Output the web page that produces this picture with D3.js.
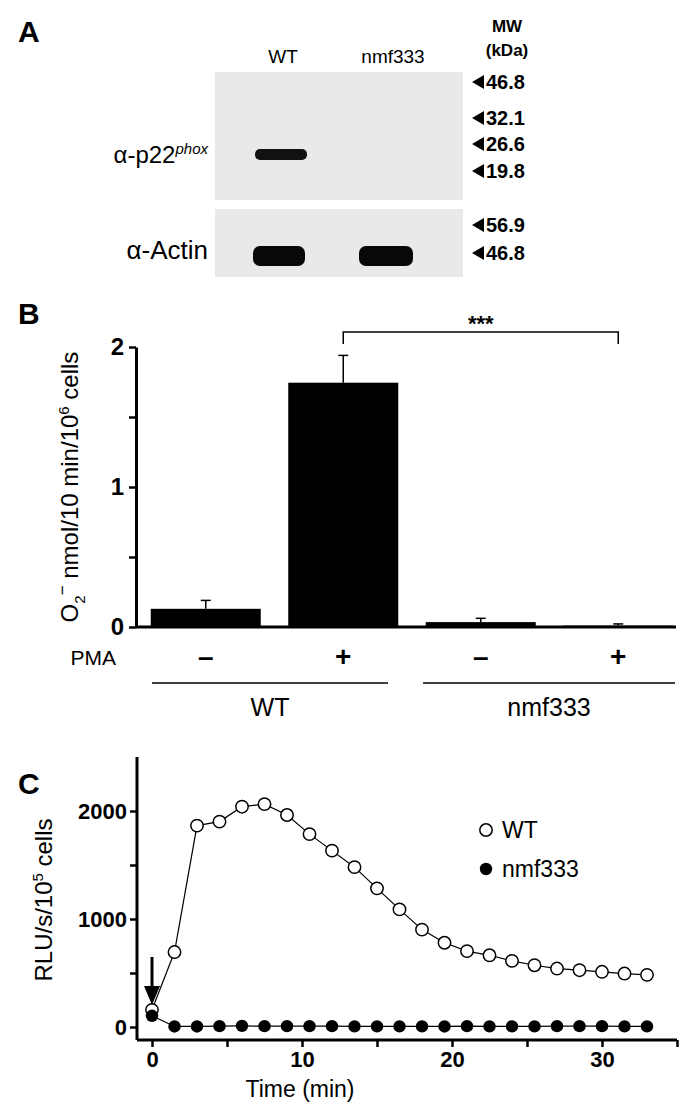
<!DOCTYPE html>
<html><head><meta charset="utf-8">
<script src="https://cdn.jsdelivr.net/npm/d3@7"></script>
<style>body{margin:0;background:#fff}text{font-family:"Liberation Sans",Arial,sans-serif}</style>
</head><body><svg id="c" width="700" height="1116"></svg>
<script>
// ---- Data ----
const laneLabels = ["WT", "nmf333"];
const mwTop = ["46.8", "32.1", "26.6", "19.8"];
const mwBottom = ["56.9", "46.8"];
const barGroups = ["WT", "nmf333"];
const pma = ["–", "+", "–", "+"];
const barValues = [0.13, 1.745, 0.035, 0.01];
const barErrors = [0.19, 1.94, 0.062, 0.022];
const barTicks = [0, 1, 2];
const timeMin = [0,1.5,3,4.5,6,7.5,9,10.5,12,13.5,15,16.5,18,19.5,21,22.5,24,25.5,27,28.5,30,31.5,33];
const wtRLU = [159,694,1865,1902,2040,2064,1963,1786,1633,1480,1284,1089,902,780,703,664,612,572,541,526,511,495,483];
const nmfRLU = [104,5,5,8,10,8,8,8,8,6,6,6,6,5,8,6,6,6,8,8,8,6,6];
const cTicksY = [0, 1000, 2000];
const cTicksX = [0, 10, 20, 30];

const svg = d3.select("#c");
const B = "bold";

// ---- Panel A ----
svg.append("text").attr("x",18).attr("y",42).attr("font-size",30).attr("font-weight",B).text("A");
svg.append("rect").attr("x",215).attr("y",72).attr("width",248).attr("height",128).attr("fill","#e9e9e9");
svg.append("rect").attr("x",215).attr("y",209).attr("width",248).attr("height",68).attr("fill","#e9e9e9");
laneLabels.forEach((l,i)=>{
  svg.append("text").attr("x",[283,393][i]).attr("y",63).attr("text-anchor","middle").attr("font-size",19).text(l);
});
svg.append("rect").attr("x",255).attr("y",149).attr("width",52).attr("height",11).attr("rx",5).attr("fill","#111");
[[253,305],[359,413]].forEach(([a,b])=>svg.append("rect").attr("x",a).attr("y",246).attr("width",b-a).attr("height",20).attr("rx",7).attr("fill","#080808"));
svg.append("text").attr("x",208).attr("y",163).attr("text-anchor","end").attr("font-size",24)
  .html('α-p22<tspan font-size="15" font-style="italic" dy="-9">phox</tspan>');
svg.append("text").attr("x",208).attr("y",259).attr("text-anchor","end").attr("font-size",26).text("α-Actin");
svg.append("text").attr("x",507).attr("y",32).attr("text-anchor","middle").attr("font-size",17).attr("font-weight",B).text("MW");
svg.append("text").attr("x",507).attr("y",56).attr("text-anchor","middle").attr("font-size",17).attr("font-weight",B).text("(kDa)");
const mwY = [82,118,144,171];
const mwY2 = [225,253];
function mw(lbl,y){
  svg.append("path").attr("d",`M472,${y} l12,-7 v14 z`).attr("fill","#000");
  svg.append("text").attr("x",486).attr("y",y+7).attr("font-size",20).attr("font-weight",B).text(lbl);
}
mwTop.forEach((l,i)=>mw(l,mwY[i])); mwBottom.forEach((l,i)=>mw(l,mwY2[i]));

// ---- Panel B ----
svg.append("text").attr("x",18).attr("y",324).attr("font-size",30).attr("font-weight",B).text("B");
const by = d3.scaleLinear().domain([0,2]).range([627,347]);
const bx = d3.scaleBand().domain(d3.range(4)).range([148,676]).paddingInner(0.2).paddingOuter(0.02);
const bAxis = svg.append("g").attr("transform","translate(136,0)")
  .call(d3.axisLeft(by).tickValues([0,0.5,1,1.5,2]).tickFormat(d=>barTicks.includes(d)?d:"").tickSize(7).tickSizeOuter(0));
bAxis.selectAll("text").attr("font-size",24).attr("font-weight",B).attr("dx",-2);
bAxis.select(".domain").attr("stroke-width",3);
bAxis.selectAll(".tick line").attr("stroke-width",2.5);
svg.append("line").attr("x1",136).attr("x2",676).attr("y1",627).attr("y2",627).attr("stroke","#000").attr("stroke-width",3);
barValues.forEach((v,i)=>{
  const x = bx(i), w = bx.bandwidth(), cx = x+w/2;
  svg.append("line").attr("x1",cx).attr("x2",cx).attr("y1",by(v)).attr("y2",by(barErrors[i])).attr("stroke","#000").attr("stroke-width",1.5);
  svg.append("line").attr("x1",cx-5).attr("x2",cx+5).attr("y1",by(barErrors[i])).attr("y2",by(barErrors[i])).attr("stroke","#000").attr("stroke-width",1.5);
  svg.append("rect").attr("x",x).attr("y",by(v)).attr("width",w).attr("height",Math.max(627-by(v),1.5)).attr("fill","#000");
  svg.append("text").attr("x",cx).attr("y",666).attr("text-anchor","middle").attr("font-size",28).attr("font-weight",B).text(pma[i]);
});
svg.append("text").attr("x",116).attr("y",665).attr("text-anchor","end").attr("font-size",21).text("PMA");
const c1 = bx(1)+bx.bandwidth()/2, c3 = bx(3)+bx.bandwidth()/2;
svg.append("path").attr("d",`M${c1},344 V332 H${c3} V344`).attr("fill","none").attr("stroke","#000").attr("stroke-width",1.5);
svg.append("text").attr("x",(c1+c3)/2).attr("y",331).attr("text-anchor","middle").attr("font-size",22).attr("font-weight",B).text("***");
[[152,388],[423,675]].forEach(([a,b],i)=>{
  svg.append("line").attr("x1",a).attr("x2",b).attr("y1",683).attr("y2",683).attr("stroke","#000").attr("stroke-width",1.5);
  svg.append("text").attr("x",(a+b)/2).attr("y",716).attr("text-anchor","middle").attr("font-size",25).text(barGroups[i]);
});
svg.append("text").attr("transform","translate(78,487) rotate(-90)").attr("text-anchor","middle").attr("font-size",24)
  .html('O<tspan font-size="15" dy="7">2</tspan><tspan font-size="17" dy="-17">−</tspan><tspan dy="10"> nmol/10 min/10</tspan><tspan font-size="15" dy="-9">6</tspan><tspan dy="9"> cells</tspan>');

// ---- Panel C ----
svg.append("text").attr("x",18).attr("y",794).attr("font-size",30).attr("font-weight",B).text("C");
const cx = d3.scaleLinear().domain([0,35]).range([152,677]);
const cy = d3.scaleLinear().domain([0,2500]).range([1027,757]);
const yA = svg.append("g").attr("transform","translate(137,0)")
  .call(d3.axisLeft(cy).tickValues([0,500,1000,1500,2000]).tickFormat(d=>cTicksY.includes(d)?d:"").tickSize(7).tickSizeOuter(0));
yA.select(".domain").attr("d","M0,757V1040").attr("stroke-width",3);
const xA = svg.append("g").attr("transform","translate(0,1040)")
  .call(d3.axisBottom(cx).tickValues([0,5,10,15,20,25,30,35]).tickFormat(d=>cTicksX.includes(d)?d:"").tickSize(7).tickSizeOuter(0));
xA.select(".domain").attr("d","M137,0H677").attr("stroke-width",3);
[yA,xA].forEach(a=>{a.selectAll("text").attr("font-size",22).attr("font-weight",B);a.selectAll(".tick line").attr("stroke-width",2.5);});
xA.selectAll("text").attr("dy","0.75em");
svg.append("text").attr("x",300).attr("y",1097).attr("text-anchor","middle").attr("font-size",23).text("Time (min)");
svg.append("text").attr("transform","translate(52,900) rotate(-90)").attr("text-anchor","middle").attr("font-size",24)
  .html('RLU/s/10<tspan font-size="15" dy="-9">5</tspan><tspan dy="9"> cells</tspan>');
const line = d3.line().x((d,i)=>cx(timeMin[i])).y(d=>cy(d));
svg.append("path").attr("d",line(nmfRLU)).attr("fill","none").attr("stroke","#000").attr("stroke-width",1.2);
svg.append("path").attr("d",line(wtRLU)).attr("fill","none").attr("stroke","#000").attr("stroke-width",1.2);
svg.selectAll(".wt").data(wtRLU).join("circle").attr("cx",(d,i)=>cx(timeMin[i])).attr("cy",d=>cy(d)).attr("r",6.2).attr("fill","#fff").attr("stroke","#000").attr("stroke-width",1.5);
svg.selectAll(".nm").data(nmfRLU).join("circle").attr("cx",(d,i)=>cx(timeMin[i])).attr("cy",d=>cy(d)).attr("r",6.2).attr("fill","#000");
svg.append("line").attr("x1",cx(0)).attr("x2",cx(0)).attr("y1",957).attr("y2",992).attr("stroke","#000").attr("stroke-width",3);
svg.append("path").attr("d",`M${cx(0)-8},986 L${cx(0)+8},986 L${cx(0)},1005 Z`).attr("fill","#000");
svg.append("circle").attr("cx",486).attr("cy",830).attr("r",6.2).attr("fill","#fff").attr("stroke","#000").attr("stroke-width",1.5);
svg.append("circle").attr("cx",486).attr("cy",869).attr("r",6.2).attr("fill","#000");
svg.append("text").attr("x",502).attr("y",838).attr("font-size",23).text("WT");
svg.append("text").attr("x",502).attr("y",877).attr("font-size",23).text("nmf333");
</script></body></html>
